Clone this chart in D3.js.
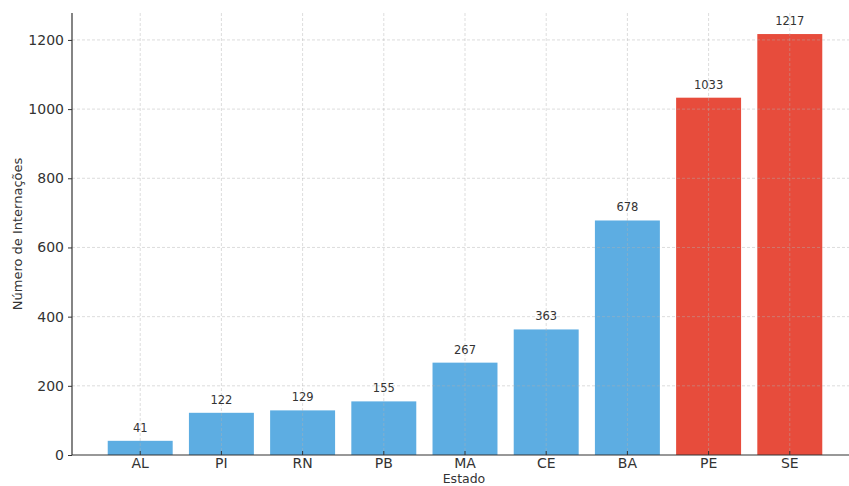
<!DOCTYPE html>
<html>
<head>
<meta charset="utf-8">
<script src="https://cdn.jsdelivr.net/npm/d3@7"></script>
<style>
  html, body { margin: 0; padding: 0; background: #fff; }
  svg { display: block; font-family: "DejaVu Sans", sans-serif; }
</style>
</head>
<body>
<svg id="chart" width="849" height="486"></svg>
<script>
// Hospitalisations per state
const estados = ["AL", "PI", "RN", "PB", "MA", "CE", "BA", "PE", "SE"];
const internacoes = [41, 122, 129, 155, 267, 363, 678, 1033, 1217];
const destaque = ["PE", "SE"];
const yTicks = [0, 200, 400, 600, 800, 1000, 1200];

const data = estados.map((e, i) => ({ estado: e, valor: internacoes[i] }));

const svg = d3.select("#chart");
const plotLeft = 72, plotRight = 858, plotTop = 13, plotBottom = 455;

const x = d3.scaleBand()
  .domain(estados)
  .range([plotLeft, plotRight])
  .paddingInner(0.2)
  .paddingOuter(0.44);

const yMax = d3.max(internacoes) * 1.05;
const y = d3.scaleLinear().domain([0, yMax]).range([plotBottom, plotTop]);

const azul = "#5DADE2", vermelho = "#E74C3C", texto = "#333";

// bars
svg.append("g").selectAll("rect")
  .data(data)
  .join("rect")
  .attr("x", d => x(d.estado))
  .attr("width", x.bandwidth())
  .attr("y", d => y(d.valor))
  .attr("height", d => y(0) - y(d.valor))
  .attr("fill", d => destaque.includes(d.estado) ? vermelho : azul);

// dashed grid on top of the bars
const grid = svg.append("g")
  .attr("stroke", "#b0b0b0")
  .attr("stroke-opacity", 0.55)
  .attr("stroke-width", 0.8)
  .attr("stroke-dasharray", "3,2");
grid.selectAll("line.h")
  .data(yTicks.filter(t => t > 0))
  .join("line")
  .attr("class", "h")
  .attr("x1", plotLeft).attr("x2", plotRight)
  .attr("y1", d => y(d)).attr("y2", d => y(d));
grid.selectAll("line.v")
  .data(estados)
  .join("line")
  .attr("class", "v")
  .attr("x1", d => x(d) + x.bandwidth() / 2)
  .attr("x2", d => x(d) + x.bandwidth() / 2)
  .attr("y1", plotTop).attr("y2", plotBottom);

// value labels
svg.append("g").selectAll("text")
  .data(data)
  .join("text")
  .attr("x", d => x(d.estado) + x.bandwidth() / 2)
  .attr("y", d => y(d.valor) - 9)
  .attr("text-anchor", "middle")
  .attr("font-size", 11.5)
  .attr("fill", texto)
  .text(d => d.valor);

// y axis
const yAxis = svg.append("g")
  .attr("transform", `translate(${plotLeft},0)`)
  .call(d3.axisLeft(y).tickValues(yTicks).tickFormat(d3.format("d")).tickSize(4).tickPadding(4));
yAxis.select(".domain").remove();
yAxis.selectAll(".tick line").attr("stroke", texto);
yAxis.selectAll(".tick text")
  .attr("font-size", 14)
  .attr("font-family", "DejaVu Sans, sans-serif")
  .attr("fill", texto);

// x axis (ticks pointing into the plot)
const xAxis = svg.append("g")
  .attr("transform", `translate(0,${plotBottom})`)
  .call(d3.axisBottom(x).tickSizeInner(-4).tickSizeOuter(0).tickPadding(3));
xAxis.select(".domain").remove();
xAxis.selectAll(".tick line").attr("stroke", texto);
xAxis.selectAll(".tick text")
  .attr("font-size", 14)
  .attr("font-family", "DejaVu Sans, sans-serif")
  .attr("fill", texto);

// spines
svg.append("line")
  .attr("x1", plotLeft).attr("x2", plotLeft)
  .attr("y1", plotTop).attr("y2", plotBottom)
  .attr("stroke", texto).attr("stroke-width", 1.2);
svg.append("line")
  .attr("x1", plotLeft).attr("x2", plotRight)
  .attr("y1", plotBottom).attr("y2", plotBottom)
  .attr("stroke", texto).attr("stroke-width", 1.2);

// axis titles
svg.append("text")
  .attr("transform", `translate(22,${(plotTop + plotBottom) / 2}) rotate(-90)`)
  .attr("text-anchor", "middle")
  .attr("font-size", 13)
  .attr("fill", texto)
  .text("Número de Internações");
svg.append("text")
  .attr("x", 464)
  .attr("y", 482.5)
  .attr("text-anchor", "middle")
  .attr("font-size", 12.5)
  .attr("fill", texto)
  .text("Estado");
</script>
</body>
</html>
